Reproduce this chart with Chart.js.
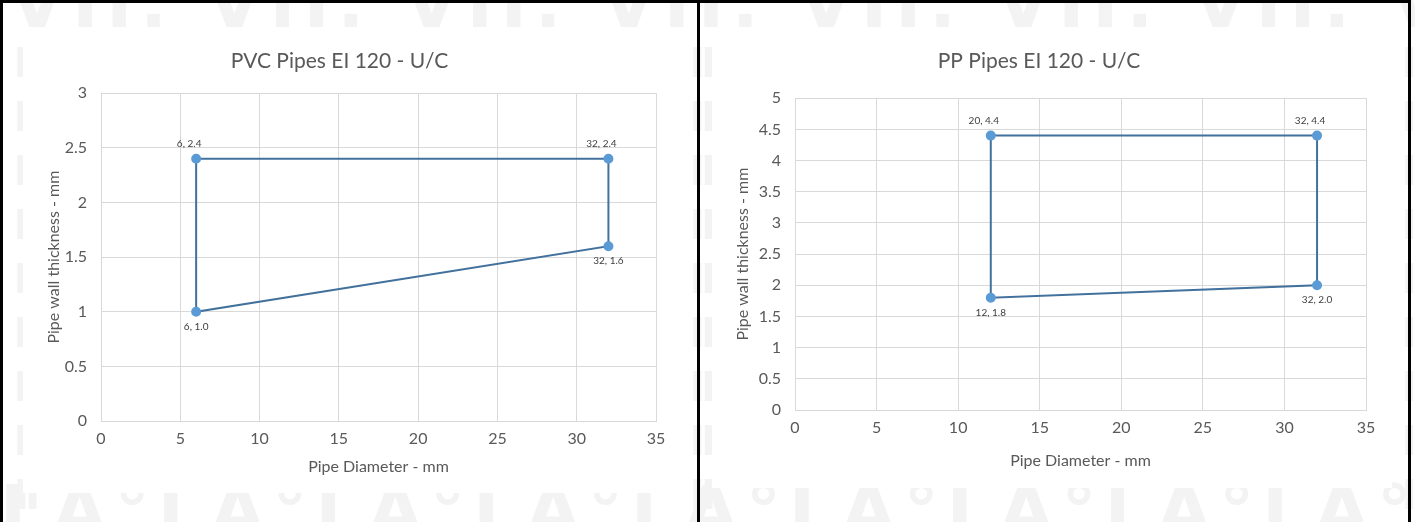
<!DOCTYPE html>
<html>
<head>
<meta charset="utf-8">
<script src="https://cdn.jsdelivr.net/npm/chart.js@4.4.1/dist/chart.umd.min.js"></script>
<style>
  html, body { margin: 0; padding: 0; background: #fff; }
  #page { position: relative; width: 1415px; height: 522px; overflow: hidden; background: #fff; }
  .wm { position: absolute; font-family: "DejaVu Sans", sans-serif; font-weight: bold; color: #f3f3f3; white-space: nowrap; letter-spacing: 8px; }
  .panel { position: absolute; background: #fff; }
  .line { position: absolute; background: #000; }
</style>
</head>
<body>
<div id="page">
  <!-- faint watermark behind the charts -->
  <div class="wm" style="left:10px; top:-38px; font-size:70px;">VII. VII. VII. VII. VII. VII. VII. VII. VII. VII.</div>
  <div class="wm" style="left:0px; top:470px; font-size:70px;">LA°LA°LA°LA°LA°LA°LA°LA°LA°LA°LA°LA°</div>
  <div class="wm" style="left:4px; top:40px; font-size:40px; writing-mode:vertical-rl;">ⅡⅡⅡⅡⅡⅡⅡⅡⅡ</div>
  <div class="wm" style="left:680px; top:40px; font-size:40px; writing-mode:vertical-rl;">ⅡⅡⅡⅡⅡⅡⅡⅡⅡ</div>
  <div class="wm" style="left:1392px; top:40px; font-size:40px; writing-mode:vertical-rl;">ⅡⅡⅡⅡⅡⅡⅡⅡⅡ</div>

  <div class="panel" style="left:23px; top:32px; width:657px; height:461px;"><canvas id="pvcChart"></canvas></div>
  <div class="panel" style="left:712px; top:32px; width:680px; height:456px;"><canvas id="ppChart"></canvas></div>

  <div class="line" style="left:0; top:0; width:1411px; height:3px;"></div>
  <div class="line" style="left:0; top:0; width:3px; height:522px;"></div>
  <div class="line" style="left:697px; top:0; width:3px; height:522px;"></div>
  <div class="line" style="left:1408px; top:0; width:3px; height:522px;"></div>
</div>

<script>
// PVC pipes polygon (diameter mm, wall thickness mm)
const pvcDiameter = [6, 32, 32, 6];
const pvcWall = [2.4, 2.4, 1.6, 1.0];
const pvcLabels = ['6, 2.4', '32, 2.4', '32, 1.6', '6, 1.0'];

// PP pipes polygon
const ppDiameter = [12, 32, 32, 12];
const ppWall = [4.4, 4.4, 2.0, 1.8];
const ppLabels = ['20, 4.4', '32, 4.4', '32, 2.0', '12, 1.8'];

const xTicks = [0, 5, 10, 15, 20, 25, 30, 35];
const pvcYTicks = [0, 0.5, 1, 1.5, 2, 2.5, 3];
const ppYTicks = [0, 0.5, 1, 1.5, 2, 2.5, 3, 3.5, 4, 4.5, 5];

// label side for each point
const labelSide = ['above', 'above', 'below', 'below'];

const FONT = 'Lato, "Open Sans", sans-serif';
const GRID = '#d9d9d9';
const TEXT = '#595959';

// small plugin for point labels
const pointLabels = {
  id: 'pointLabels',
  afterDatasetsDraw(chart, args, opts) {
    const ctx = chart.ctx;
    const meta = chart.getDatasetMeta(0);
    ctx.save();
    ctx.font = '10px ' + FONT;
    ctx.fillStyle = '#404040';
    ctx.textAlign = 'center';
    ctx.textBaseline = 'middle';
    opts.labels.forEach((txt, i) => {
      const el = meta.data[i];
      const dy = labelSide[i] === 'above' ? -15 : 15;
      const dx = labelSide[i] === 'above' ? -7 : 0;
      ctx.fillText(txt, el.x + dx, el.y + dy);
    });
    ctx.restore();
  }
};

function closeLoop(xs, ys) {
  const pts = xs.map((x, i) => ({ x: x, y: ys[i] }));
  pts.push(pts[0]);
  return pts;
}

function makeChart(id, title, xs, ys, labels, yTicks, box) {
  const yMax = yTicks[yTicks.length - 1];
  return new Chart(document.getElementById(id).getContext('2d'), {
    type: 'scatter',
    data: {
      datasets: [{
        data: closeLoop(xs, ys),
        showLine: true,
        borderColor: '#41719c',
        borderWidth: 2,
        pointBackgroundColor: '#5b9bd5',
        pointBorderColor: '#5b9bd5',
        pointRadius: xs.map(() => 4).concat([0]),
        pointHoverRadius: 0
      }]
    },
    options: {
      responsive: true,
      maintainAspectRatio: false,
      animation: false,
      layout: { padding: { right: box.right, left: 0, top: 0, bottom: 0 } },
      plugins: {
        legend: { display: false },
        tooltip: { enabled: false },
        title: {
          display: true,
          text: title,
          color: TEXT,
          font: { family: FONT, size: 21, weight: 'normal' },
          padding: { top: 17, bottom: box.top - 42 }
        },
        pointLabels: { labels: labels }
      },
      scales: {
        x: {
          type: 'linear',
          min: 0, max: 35,
          afterBuildTicks: s => { s.ticks = xTicks.map(v => ({ value: v })); },
          afterFit: s => { s.height = box.bottom; },
          grid: { color: GRID, drawTicks: false },
          border: { color: GRID },
          ticks: { color: TEXT, padding: 8, font: { family: FONT, size: 16 } },
          title: {
            display: true, text: 'Pipe Diameter - mm', color: TEXT,
            font: { family: FONT, size: 16 }, padding: { top: 0, bottom: box.xTitle }
          }
        },
        y: {
          type: 'linear',
          min: 0, max: yMax,
          afterBuildTicks: s => { s.ticks = yTicks.map(v => ({ value: v })); },
          afterFit: s => { s.width = box.left; },
          grid: { color: GRID, drawTicks: false },
          border: { color: GRID },
          ticks: {
            color: TEXT, padding: 14, font: { family: FONT, size: 16 },
            callback: v => String(v)
          },
          title: {
            display: true, text: 'Pipe wall thickness - mm', color: TEXT,
            font: { family: FONT, size: 16 }, padding: { top: 21, bottom: 0 }
          }
        }
      }
    },
    plugins: [pointLabels]
  });
}

makeChart('pvcChart', 'PVC Pipes EI 120 - U/C', pvcDiameter, pvcWall, pvcLabels, pvcYTicks,
  { left: 78, right: 24, top: 61, bottom: 72, xTitle: 17 });
makeChart('ppChart', 'PP Pipes EI 120 - U/C', ppDiameter, ppWall, ppLabels, ppYTicks,
  { left: 83, right: 26, top: 66, bottom: 78, xTitle: 18 });
</script>
</body>
</html>
